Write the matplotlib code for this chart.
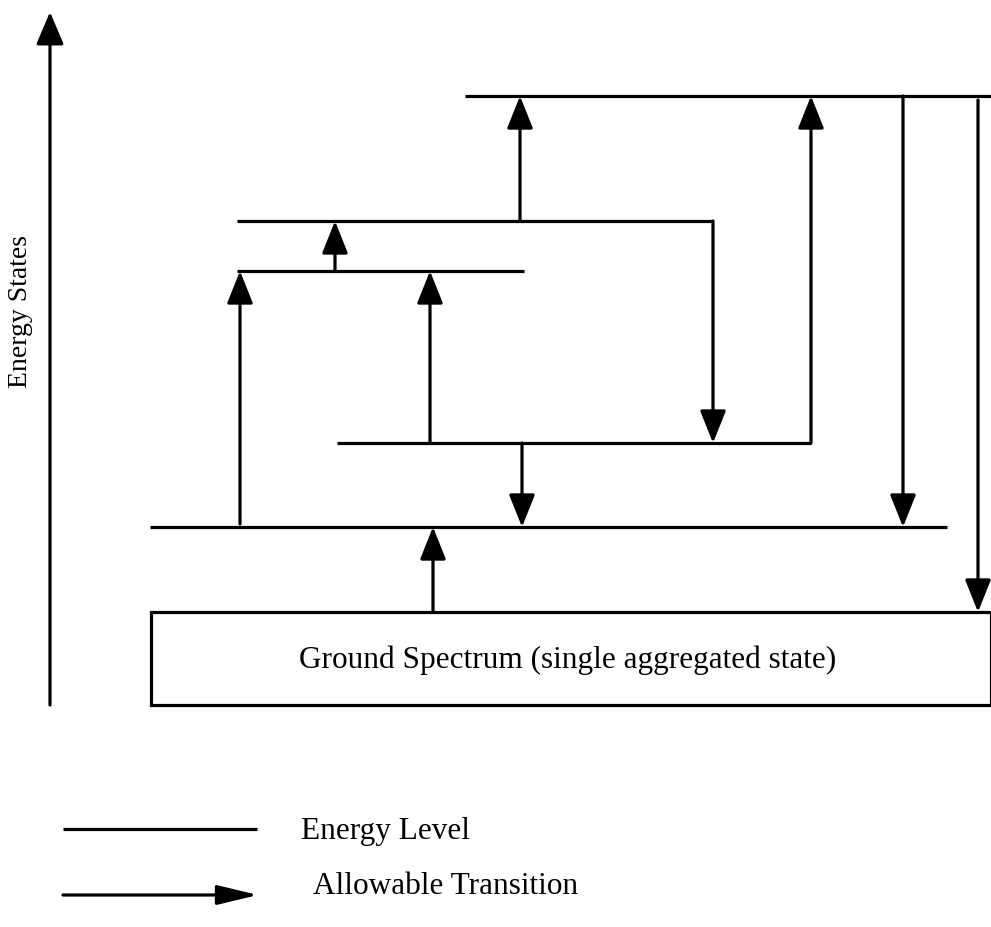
import matplotlib
matplotlib.use("Agg")
import matplotlib.pyplot as plt
from matplotlib.patches import Rectangle

plt.rcParams['font.family'] = ['Liberation Serif', 'DejaVu Serif']

# energy levels: (y, x start, x end), in picture pixels
level_y = [96, 221, 271, 443, 527]
level_x0 = [465, 237, 237, 337, 150]
level_x1 = [991, 713, 524, 811, 947]

# transitions: x, y from, y to
trans_x = [240, 430, 335, 520, 811, 713, 522, 433, 903, 978]
trans_y0 = [524, 443, 271, 221, 443, 221, 443, 612, 96, 100]
trans_y1 = [271, 271, 221, 96, 96, 443, 527, 527, 527, 612]

# ground spectrum box
ground_x = [151, 991]
ground_y = [612, 705]
ground_label = "Ground Spectrum (single aggregated state)"

fig = plt.figure(figsize=(9.91, 9.27), dpi=100)
ax = fig.add_axes([0, 0, 1, 1])
ax.set_xlim(0, 991)
ax.set_ylim(927, 0)
ax.axis('off')

lw = 2.3
head = '-|>,head_length=2.0,head_width=0.8'

# y axis arrow
ax.annotate('', xy=(50, 12), xytext=(50, 705),
            arrowprops=dict(arrowstyle='-|>,head_length=2.0,head_width=0.85',
                            color='black', lw=lw, shrinkA=0, shrinkB=0))
ax.text(21, 312, 'Energy States', rotation=90, ha='center', va='center',
        fontsize=20)

for y, x0, x1 in zip(level_y, level_x0, level_x1):
    ax.plot([x0, x1], [y, y], color='black', lw=lw, solid_capstyle='butt')

for x, y0, y1 in zip(trans_x, trans_y0, trans_y1):
    ax.annotate('', xy=(x, y1), xytext=(x, y0),
                arrowprops=dict(arrowstyle=head, color='black', lw=lw,
                                shrinkA=0, shrinkB=0))

ax.add_patch(Rectangle((ground_x[0], ground_y[0]), ground_x[1] - ground_x[0],
                       ground_y[1] - ground_y[0], fill=False,
                       edgecolor='black', lw=lw))
ax.text(568, 660, ground_label, ha='center', va='center', fontsize=22.5)

# legend
ax.plot([63, 257], [829, 829], color='black', lw=lw, solid_capstyle='butt')
ax.text(301, 831, 'Energy Level', ha='left', va='center', fontsize=22.5)
ax.annotate('', xy=(258, 895), xytext=(63, 895),
            arrowprops=dict(arrowstyle='-|>,head_length=2.5,head_width=0.6',
                            color='black', lw=lw, shrinkA=0, shrinkB=0))
ax.text(313, 886, 'Allowable Transition', ha='left', va='center', fontsize=22.5)

fig.savefig('out.png', dpi=100)
